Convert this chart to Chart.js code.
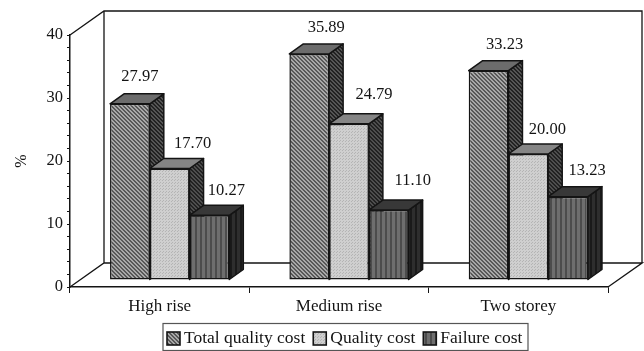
<!DOCTYPE html>
<html><head><meta charset="utf-8">
<style>html,body{margin:0;padding:0;background:#fff}canvas{display:block;filter:blur(0.35px)}</style>
<script src="https://cdn.jsdelivr.net/npm/chart.js@4"></script>
</head><body><canvas id="c" width="644" height="351"></canvas>
<script>
const categories = ["High rise", "Medium rise", "Two storey"];
const totalQualityCost = [27.97, 35.89, 33.23];
const qualityCost = [17.70, 24.79, 20.00];
const failureCost = [10.27, 11.10, 13.23];
const seriesNames = ["Total quality cost", "Quality cost", "Failure cost"];
const yTickLabels = [0, 10, 20, 30, 40];

const INK = '#141414';
const FONT = '"Liberation Serif", serif';
const BAR_SHIFT = {x: 10, y: -7};
const BAR_DEPTH = {x: 14, y: -10};
const WALL = {x: 34, y: -24};
const LABEL_NUDGE = [[10, -27, 23, -25, 17, -25], [17, -26, 25, -29, 24, -29], [16, -26, 19, -24, 19, -26]];
const LEGEND_BOX = {left: 163, top: 323.5, right: 528, bottom: 350.5};
const LEGEND_ITEM = {start: 167, swatch: 13, swatchTop: 332, gap: 4, spacing: 8, textY: 338};

function pattern(w, h, base, paint) {
  const c = document.createElement('canvas'); c.width = w; c.height = h;
  const x = c.getContext('2d'); x.fillStyle = base; x.fillRect(0, 0, w, h);
  paint(x);
  return x.createPattern(c, 'repeat');
}
const diag = (base, ink) => pattern(4, 4, base, x => {
  x.fillStyle = ink;
  for (let i = 0; i < 4; i++) { x.fillRect(i, i, 1, 1); x.fillRect((i + 1) % 4, i, 1, 1); }
});
const vert = (base, ink) => pattern(5, 4, base, x => { x.fillStyle = ink; x.fillRect(0, 0, 2, 4); });
const dots = (base, ink) => pattern(3, 3, base, x => { x.fillStyle = ink; x.fillRect(0, 0, 1, 1); x.fillRect(2, 1, 1, 1); });

const fronts = [diag('#a8a8a8', '#585858'), dots('#cfcfcf', '#b4b4b4'), vert('#6e6e6e', '#4c4c4c')];
const tops = ['#6c6c6c', '#858585', '#383838'];
const sides = [diag('#555555', '#222222'), diag('#4e4e4e', '#222222'), vert('#2e2e2e', '#1a1a1a')];

function drawFaces(chart, i) {
  const ctx = chart.ctx;
  chart.getDatasetMeta(i).data.forEach(b => {
    const {x, y, base, width} = b.getProps(['x', 'y', 'base', 'width'], true);
    const l = x - width / 2, r = x + width / 2, dx = BAR_DEPTH.x, dy = BAR_DEPTH.y;
    ctx.lineWidth = 1.5; ctx.strokeStyle = INK; ctx.lineJoin = 'round';
    ctx.beginPath();
    ctx.moveTo(r, y); ctx.lineTo(r + dx, y + dy); ctx.lineTo(r + dx, base + dy); ctx.lineTo(r, base); ctx.closePath();
    ctx.fillStyle = sides[i]; ctx.fill(); ctx.stroke();
    ctx.beginPath();
    ctx.moveTo(l, y); ctx.lineTo(l + dx, y + dy); ctx.lineTo(r + dx, y + dy); ctx.lineTo(r, y); ctx.closePath();
    ctx.fillStyle = tops[i]; ctx.fill(); ctx.stroke();
  });
}

const depthPlugin = {
  id: 'depth',
  beforeDraw(chart) {
    const {ctx, chartArea: a} = chart;
    ctx.save();
    ctx.strokeStyle = INK; ctx.lineWidth = 1.3;
    const L = a.left, R = a.right, T = a.top, B = a.bottom;
    ctx.beginPath();
    ctx.moveTo(L, B); ctx.lineTo(L + WALL.x, B + WALL.y); ctx.lineTo(R + WALL.x, B + WALL.y);
    ctx.lineTo(R, B);
    ctx.moveTo(L, T); ctx.lineTo(L + WALL.x, T + WALL.y); ctx.lineTo(R + WALL.x, T + WALL.y);
    ctx.lineTo(R + WALL.x, B + WALL.y);
    ctx.moveTo(L + WALL.x, T + WALL.y); ctx.lineTo(L + WALL.x, B + WALL.y);
    ctx.stroke();
    ctx.restore();
  },
  // Default drawing runs from the last dataset to the first; the solid look needs the opposite.
  beforeDatasetDraw() { return false; },
  afterDatasetsDraw(chart) {
    const ctx = chart.ctx;
    ctx.save();
    ctx.translate(BAR_SHIFT.x, BAR_SHIFT.y);
    chart.data.datasets.forEach((d, i) => {
      drawFaces(chart, i);
      chart.getDatasetMeta(i).controller.draw();
    });
    ctx.restore();
    ctx.save();
    ctx.font = '16.5px ' + FONT; ctx.fillStyle = INK; ctx.textAlign = 'center'; ctx.textBaseline = 'middle';
    chart.data.datasets.forEach((d, i) => {
      chart.getDatasetMeta(i).data.forEach((b, j) => {
        const n = LABEL_NUDGE[j];
        ctx.fillText(d.data[j].toFixed(2), b.x + BAR_SHIFT.x + n[i * 2], b.y + BAR_SHIFT.y + n[i * 2 + 1]);
      });
    });
    ctx.restore();
  },
  afterDraw(chart) {
    const ctx = chart.ctx, B = LEGEND_BOX, I = LEGEND_ITEM;
    ctx.save();
    ctx.strokeStyle = '#555'; ctx.lineWidth = 1.2;
    ctx.strokeRect(B.left, B.top, B.right - B.left, B.bottom - B.top);
    ctx.font = '17.5px ' + FONT; ctx.textBaseline = 'middle'; ctx.textAlign = 'left';
    let x = I.start;
    seriesNames.forEach((name, i) => {
      ctx.fillStyle = fronts[i]; ctx.fillRect(x, I.swatchTop, I.swatch, I.swatch);
      ctx.strokeStyle = INK; ctx.lineWidth = 1.6; ctx.strokeRect(x, I.swatchTop, I.swatch, I.swatch);
      ctx.fillStyle = INK;
      const tx = x + I.swatch + I.gap;
      ctx.fillText(name, tx, I.textY);
      x = tx + ctx.measureText(name).width + I.spacing;
    });
    ctx.restore();
  }
};

new Chart(document.getElementById('c'), {
  type: 'bar',
  plugins: [depthPlugin],
  data: {
    labels: categories,
    datasets: [totalQualityCost, qualityCost, failureCost].map((data, i) => ({
      label: seriesNames[i], data, clip: false,
      backgroundColor: fronts[i], borderColor: INK, borderWidth: 1.5, borderSkipped: false,
      barPercentage: 1, categoryPercentage: 0.665
    }))
  },
  options: {
    responsive: false, animation: false, devicePixelRatio: 1,
    layout: {padding: {top: 35, right: 36, left: 0, bottom: 0}},
    plugins: {
      tooltip: {enabled: false},
      legend: {display: false}
    },
    scales: {
      x: {
        grid: {drawOnChartArea: false, color: INK, tickLength: 6},
        border: {color: INK, width: 1.5},
        ticks: {color: INK, font: {family: FONT, size: 17}, padding: 3, maxRotation: 0},
        afterFit(s) { s.height = 64; }
      },
      y: {
        min: 0, max: 40,
        title: {display: true, text: '%', color: INK, font: {family: FONT, size: 16}, padding: {top: 12, bottom: 0}},
        grid: {drawOnChartArea: false, color: INK, tickLength: 3},
        border: {color: INK, width: 1.5},
        ticks: {
          stepSize: 2, autoSkip: false, color: INK, font: {family: FONT, size: 16.5}, padding: 4,
          callback: v => yTickLabels.includes(v) ? String(v) : ''
        },
        afterFit(s) { s.width = 70; }
      }
    }
  }
});
</script></body></html>
